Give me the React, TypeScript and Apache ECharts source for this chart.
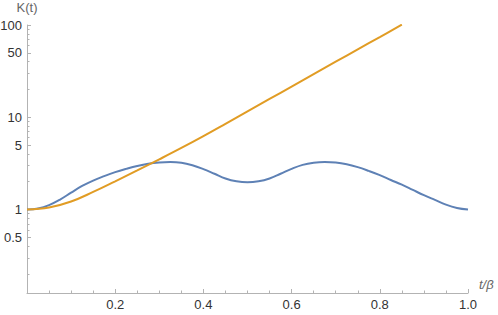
import React, { useEffect, useRef } from "react";
import * as echarts from "echarts";

// t/β sample positions
const tBlue = [
  0, 0.025, 0.05, 0.075, 0.1, 0.125, 0.15, 0.175, 0.2, 0.225, 0.25, 0.275, 0.3, 0.325, 0.35, 0.375, 0.4, 0.425, 0.45, 0.475, 0.5,
  0.525, 0.55, 0.575, 0.6, 0.625, 0.65, 0.675, 0.7, 0.725, 0.75, 0.775, 0.8, 0.825, 0.85, 0.875, 0.9, 0.925, 0.95, 0.975, 1.0,
];
const kBlue = [
  1.0, 1.028, 1.117, 1.282, 1.524, 1.8, 2.06, 2.3, 2.54, 2.76, 2.97, 3.14, 3.24, 3.28, 3.22, 3.02, 2.74, 2.44, 2.17, 2.02, 1.97,
  2.02, 2.17, 2.44, 2.76, 3.05, 3.22, 3.28, 3.24, 3.1, 2.88, 2.62, 2.36, 2.09, 1.86, 1.63, 1.43, 1.27, 1.13, 1.04, 1.0,
];

const tOrange = [0, 0.05, 0.1, 0.15, 0.2, 0.25, 0.3, 0.35, 0.4, 0.45, 0.5, 0.55, 0.6, 0.65, 0.7, 0.75, 0.8, 0.85];
const kOrange = [1.0, 1.05, 1.22, 1.55, 2.02, 2.65, 3.5, 4.65, 6.25, 8.5, 11.6, 15.8, 21.5, 29.3, 40, 54.5, 74, 101];

const yMajorTicks = [0.5, 1, 5, 10, 50, 100];
const yMinorTicks = [
  0.2, 0.3, 0.4, 0.6, 0.7, 0.8, 0.9, 2, 3, 4, 6, 7, 8, 9, 20, 30, 40, 60, 70, 80, 90,
];
const yMin = 0.1245;
const yMax = 100;

const AXIS_COLOR = "#b3b3b3";
const LABEL_COLOR = "#333333";
const NAME_COLOR = "#666666";
const FONT = "'Liberation Sans', Arial, sans-serif";

export default function App() {
  const ref = useRef<HTMLDivElement>(null);

  useEffect(() => {
    if (!ref.current) return;
    const chart = echarts.init(ref.current, undefined, { renderer: "svg" });
    const lg = (v: number) => Math.log10(v);
    const blueData = tBlue.map((t, i) => [t, lg(kBlue[i])]);
    const orangeData = tOrange.map((t, i) => [t, lg(kOrange[i])]);

    const yCommon = {
      type: "value" as const,
      min: lg(yMin),
      max: lg(yMax),
      splitLine: { show: false },
    };

    chart.setOption({
      animation: false,
      grid: { left: 27, right: 30, top: 25, bottom: 22, containLabel: false, outerBoundsMode: "none" },
      xAxis: [
        {
          type: "value",
          min: 0,
          max: 1,
          interval: 0.2,
          name: "t/β",
          nameLocation: "end",
          nameGap: 11,
          nameTextStyle: {
            color: NAME_COLOR,
            fontSize: 13,
            fontStyle: "italic",
            fontFamily: FONT,
            verticalAlign: "bottom",
            padding: [0, 0, 2, 0],
          },
          axisLine: { show: true, onZero: false, lineStyle: { color: AXIS_COLOR, width: 1 } },
          axisTick: { show: true, inside: true, length: 4, lineStyle: { color: AXIS_COLOR } },
          minorTick: { show: true, splitNumber: 4, length: 2.5, lineStyle: { color: AXIS_COLOR } },
          axisLabel: {
            color: LABEL_COLOR,
            fontSize: 13,
            fontFamily: FONT,
            margin: 5,
            formatter: (v: number) => (v === 0 ? "" : v.toFixed(1)),
          },
          splitLine: { show: false },
        },
      ],
      yAxis: [
        {
          ...yCommon,
          position: "left",
          name: "K(t)",
          nameLocation: "end",
          nameGap: 11,
          nameTextStyle: { color: NAME_COLOR, fontSize: 13, fontFamily: FONT, align: "center" },
          axisLine: { show: true, onZero: false, lineStyle: { color: AXIS_COLOR, width: 1 } },
          axisTick: {
            show: true,
            inside: true,
            length: 4,
            customValues: yMajorTicks.map(lg),
            lineStyle: { color: AXIS_COLOR },
          },
          axisLabel: {
            color: LABEL_COLOR,
            fontSize: 13,
            fontFamily: FONT,
            margin: 5,
            customValues: yMajorTicks.map(lg),
            formatter: (v: number) => String(Math.round(Math.pow(10, v) * 100) / 100),
          },
        },
        {
          ...yCommon,
          position: "left",
          axisLine: { show: false, onZero: false },
          axisTick: {
            show: true,
            inside: true,
            length: 2.5,
            customValues: yMinorTicks.map(lg),
            lineStyle: { color: AXIS_COLOR },
          },
          axisLabel: { show: false },
        },
      ],
      series: [
        {
          type: "line",
          data: blueData,
          smooth: 0.4,
          showSymbol: false,
          clip: true,
          lineStyle: { color: "#5E81B5", width: 2 },
          itemStyle: { color: "#5E81B5" },
        },
        {
          type: "line",
          data: orangeData,
          smooth: 0.4,
          showSymbol: false,
          clip: true,
          lineStyle: { color: "#E19C24", width: 2 },
          itemStyle: { color: "#E19C24" },
        },
      ],
    });
    return () => chart.dispose();
  }, []);

  return (
    <div
      ref={ref}
      style={{ position: "fixed", left: 0, top: 0, width: 498, height: 315, background: "#fff" }}
    />
  );
}
